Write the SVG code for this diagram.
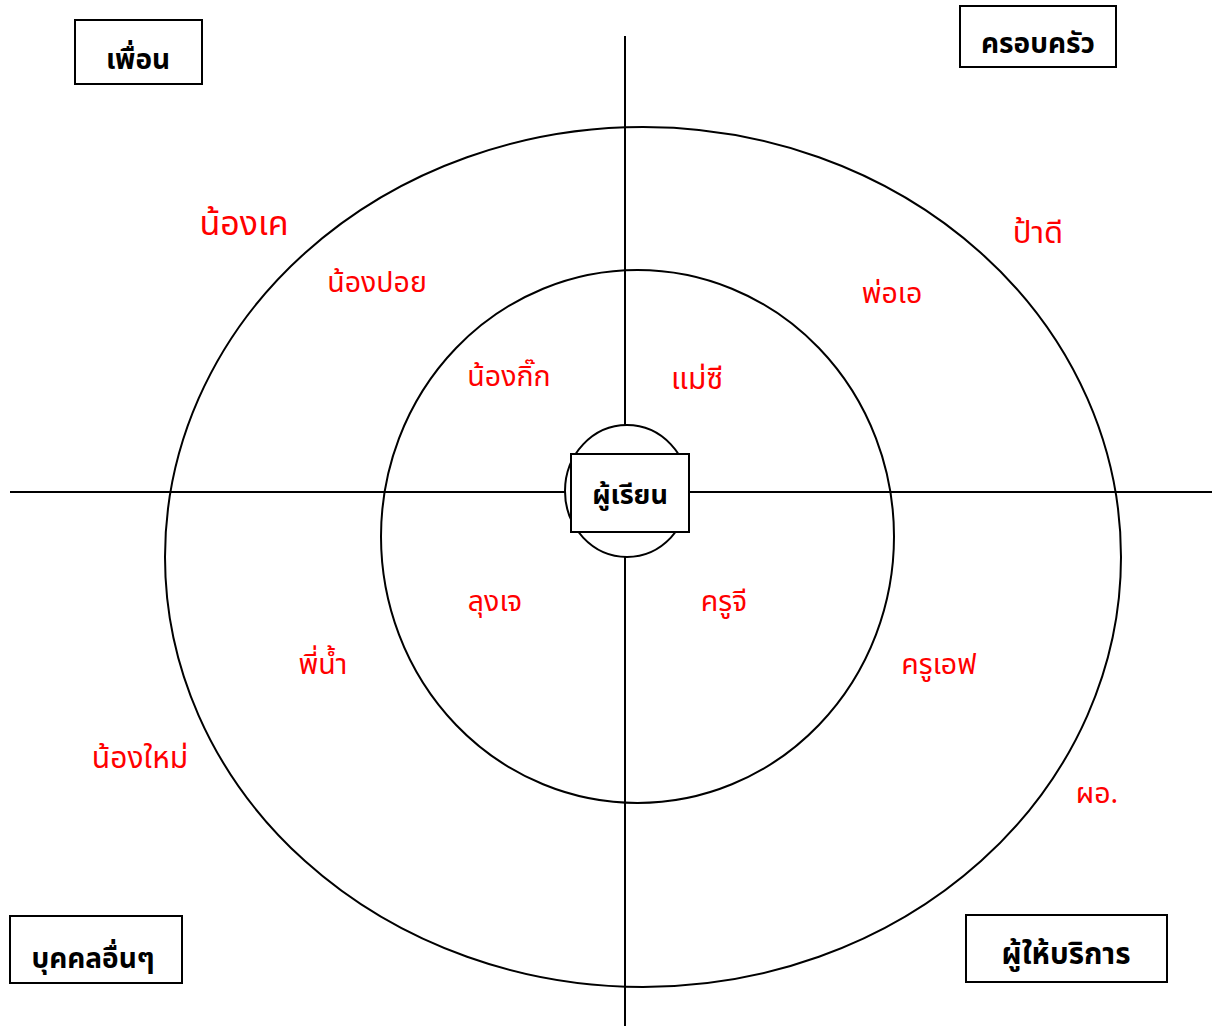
<svg xmlns="http://www.w3.org/2000/svg" width="1218" height="1028" viewBox="0 0 1218 1028">
<style>
.ln{stroke:#000;stroke-width:2;fill:none}
.box{stroke:#000;stroke-width:2;fill:#fff}
.lbl{font-family:"Noto Sans Thai","Noto Sans","DejaVu Sans",sans-serif;font-size:28px;font-weight:bold;fill:#000;text-anchor:middle}
.nm{font-family:"Noto Sans Thai","Noto Sans","DejaVu Sans",sans-serif;font-size:28.5px;fill:#ff0000;text-anchor:middle}
</style>
<rect width="1218" height="1028" fill="#fff"/>
<g id="connectors">
<ellipse class="ln" cx="643" cy="557" rx="478" ry="430"/>
<ellipse class="ln" cx="637.5" cy="536.5" rx="256.5" ry="266.5"/>
<line class="ln" x1="625" y1="36" x2="625" y2="425"/>
<line class="ln" x1="625" y1="557" x2="625" y2="1026"/>
<line class="ln" x1="10" y1="492" x2="565" y2="492"/>
<line class="ln" x1="690" y1="492" x2="1212" y2="492"/>
</g>
<g id="center">
<ellipse class="box" cx="627" cy="491" rx="62" ry="66"/>
<rect class="box" x="571" y="454" width="118" height="78"/>
<text class="lbl" x="630" y="504" style="font-size:27px">ผู้เรียน</text>
</g>
<g id="friends">
<rect class="box" x="75" y="20" width="127" height="64"/>
<text class="lbl" x="138" y="69">เพื่อน</text>
</g>
<g id="family">
<rect class="box" x="960" y="6" width="156" height="61"/>
<text class="lbl" x="1038" y="53">ครอบครัว</text>
</g>
<g id="others">
<rect class="box" x="10" y="916" width="172" height="67"/>
<text class="lbl" x="93" y="968">บุคคลอื่นๆ</text>
</g>
<g id="providers">
<rect class="box" x="966" y="915" width="201" height="67"/>
<text class="lbl" x="1066" y="964" style="font-size:29.5px">ผู้ให้บริการ</text>
</g>
<g id="names">
<text class="nm" x="244" y="235" style="font-size:34px">น้องเค</text>
<text class="nm" x="377" y="292">น้องปอย</text>
<text class="nm" x="509" y="386">น้องกิ๊ก</text>
<text class="nm" x="697" y="389" style="font-size:30px">แม่ซี</text>
<text class="nm" x="892" y="303">พ่อเอ</text>
<text class="nm" x="1038" y="243" style="font-size:31px">ป้าดี</text>
<text class="nm" x="495" y="611">ลุงเจ</text>
<text class="nm" x="724" y="611">ครูจี</text>
<text class="nm" x="323" y="674">พี่น้ำ</text>
<text class="nm" x="939" y="674">ครูเอฟ</text>
<text class="nm" x="140" y="768" style="font-size:30px">น้องใหม่</text>
<text class="nm" x="1097" y="803">ผอ.</text>
</g>
</svg>
